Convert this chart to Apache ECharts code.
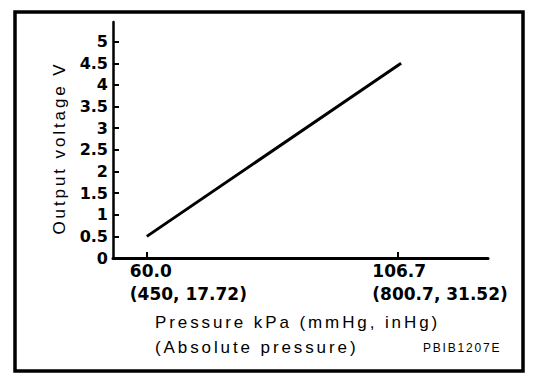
<!DOCTYPE html>
<html>
<head>
<meta charset="utf-8">
<script src="https://cdn.jsdelivr.net/npm/echarts@6/dist/echarts.min.js"></script>
<style>
  html, body { margin: 0; padding: 0; background: #fff; }
  #chart { width: 560px; height: 382px; }
  #chart text[style*="17px"]:not([style*="bold"]) { letter-spacing: 2.9px; }
  #chart text[style*="12px"] { letter-spacing: 1.8px; }
</style>
</head>
<body>
<div id="chart"></div>
<script>
// ---- data ----
const pressure = [60, 107.4];          // kPa (line end points)
const voltage = [0.5, 4.5];            // V
const xTicks = [60, 106.7];
const xTickLabels = ['60.0', '106.7'];
const xTickSubLabels = ['(450, 17.72)', '(800.7, 31.52)'];
const yTicks = [0, 0.5, 1, 1.5, 2, 2.5, 3, 3.5, 4, 4.5, 5];
const yTickLabels = ['0', '0.5', '1', '1.5', '2', '2.5', '3', '3.5', '4', '4.5', '5'];
const yTitle = 'Output voltage V';
const xTitle = ['Pressure kPa (mmHg, inHg)', '(Absolute pressure)'];
const figCode = 'PBIB1207E';

// ---- layout (not data) ----
const xLabelShift = [-17, -25];
const FONT = 'Liberation Sans';
const BOLDFONT = 'DejaVu Sans';

const chart = echarts.init(document.getElementById('chart'), null, { renderer: 'svg' });

chart.setOption({
  backgroundColor: '#fff',
  animation: false,
  grid: { left: 113, right: 72, top: 22, bottom: 124 },
  xAxis: {
    type: 'value', min: 53.7, max: 123.6,
    splitLine: { show: false },
    axisLine: { show: true, lineStyle: { color: '#000', width: 3 } },
    axisTick: { show: true, inside: true, length: 6, lineStyle: { color: '#000', width: 2 }, customValues: xTicks },
    axisLabel: { show: false }
  },
  yAxis: {
    type: 'value', min: 0, max: 5.455,
    splitLine: { show: false },
    axisLine: { show: true, onZero: false, lineStyle: { color: '#000', width: 2.5 } },
    axisTick: { show: true, inside: true, length: 6, lineStyle: { color: '#000', width: 2 }, customValues: yTicks },
    axisLabel: {
      show: true, customValues: yTicks, margin: 5, color: '#000',
      fontFamily: BOLDFONT, fontWeight: 'bold', fontSize: 16,
      formatter: function (v) {
        const i = yTicks.findIndex(t => Math.abs(t - v) < 1e-6);
        return i >= 0 ? yTickLabels[i] : '';
      }
    },
    name: yTitle, nameLocation: 'middle', nameRotate: 90, nameGap: 45,
    nameTextStyle: { color: '#000', fontFamily: FONT, fontSize: 17, padding: [0, 16, 0, 0] }
  },
  series: [{
    type: 'line',
    data: pressure.map((p, i) => [p, voltage[i]]),
    showSymbol: false, symbol: 'none',
    lineStyle: { color: '#000', width: 3 },
    clip: false
  }]
});

const graphics = [{
  type: 'rect', shape: { x: 15, y: 12, width: 508, height: 359 },
  style: { fill: 'none', stroke: '#000', lineWidth: 3.5 }, silent: true
}];
const axisY = chart.convertToPixel({ yAxisIndex: 0 }, 0);
xTicks.forEach((v, i) => {
  const px = chart.convertToPixel({ xAxisIndex: 0 }, v);
  graphics.push({ type: 'text', x: px + xLabelShift[i], y: axisY + 13,
    style: { text: xTickLabels[i], fill: '#000', fontFamily: BOLDFONT, fontWeight: 'bold', fontSize: 17, align: 'left', verticalAlign: 'middle' } });
  graphics.push({ type: 'text', x: px + xLabelShift[i], y: axisY + 36,
    style: { text: xTickSubLabels[i], fill: '#000', fontFamily: BOLDFONT, fontWeight: 'bold', fontSize: 17, align: 'left', verticalAlign: 'middle' } });
});
graphics.push({ type: 'text', x: 155, y: 322,
  style: { text: xTitle[0], fill: '#000', fontFamily: FONT, fontSize: 17, align: 'left', verticalAlign: 'middle' } });
graphics.push({ type: 'text', x: 155, y: 347,
  style: { text: xTitle[1], fill: '#000', fontFamily: FONT, fontSize: 17, align: 'left', verticalAlign: 'middle' } });
graphics.push({ type: 'text', x: 423, y: 348,
  style: { text: figCode, fill: '#000', fontFamily: FONT, fontSize: 12, align: 'left', verticalAlign: 'middle' } });
chart.setOption({ graphic: graphics });
</script>
</body>
</html>
